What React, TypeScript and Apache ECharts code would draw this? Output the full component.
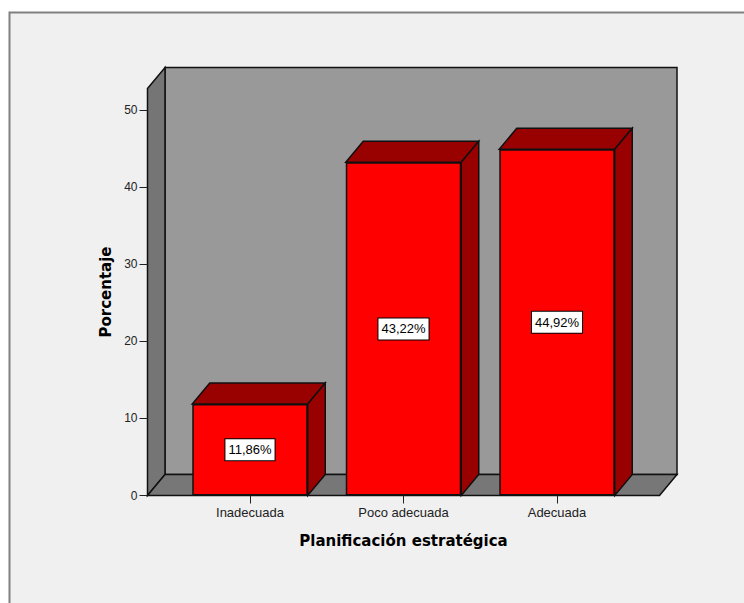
import React, { useEffect, useRef } from "react";
import * as echarts from "echarts";

const categories = ["Inadecuada", "Poco adecuada", "Adecuada"];
const percentages = [11.86, 43.22, 44.92];
const yTicks = [0, 10, 20, 30, 40, 50];
const yAxisTitle = "Porcentaje";
const xAxisTitle = "Planificación estratégica";

const DX = 17.5;
const DY = 21;
const BAR_W = 115.5;
const SIDE_MARGIN = 25.75;
const STROKE = "#101010";
const FONT = "'Liberation Sans', Arial, sans-serif";
const TITLE_FONT = "'DejaVu Sans', sans-serif";

function poly(points: number[][], fill: string) {
  return {
    type: "polygon",
    shape: { points },
    style: { fill, stroke: STROKE, lineWidth: 1.5 },
  };
}

export default function App() {
  const ref = useRef<HTMLDivElement>(null);
  useEffect(() => {
    const chart = echarts.init(ref.current!, null, { renderer: "svg" });
    chart.setOption({
      animation: false,
      backgroundColor: "#ffffff",
      graphic: [
        {
          type: "rect",
          z: -10,
          shape: { x: 9.5, y: 12.5, width: 760, height: 620 },
          style: { fill: "#f0f0f0", stroke: "#808080", lineWidth: 2 },
        },
      ],
      grid: { left: 173.25, top: 88.5, width: 460.5, height: 407 },
      xAxis: {
        type: "category",
        data: categories,
        z: 5,
        name: xAxisTitle,
        nameLocation: "middle",
        nameGap: 38,
        nameTextStyle: { fontFamily: TITLE_FONT, fontWeight: "bold", fontSize: 15, color: "#000" },
        axisLine: { show: false },
        axisTick: { show: true, alignWithLabel: true, length: 8, lineStyle: { color: "#222", width: 1 } },
        axisLabel: { fontFamily: FONT, fontSize: 13, color: "#222", margin: 10 },
      },
      yAxis: {
        type: "value",
        min: 0,
        max: 52.8,
        offset: SIDE_MARGIN,
        z: 5,
        name: yAxisTitle,
        nameLocation: "middle",
        nameGap: 34,
        nameTextStyle: { fontFamily: TITLE_FONT, fontWeight: "bold", fontSize: 15, color: "#000" },
        splitLine: { show: false },
        axisLine: { show: false },
        axisTick: { show: true, length: 8, customValues: yTicks, lineStyle: { color: "#222", width: 1 } },
        axisLabel: { fontFamily: FONT, fontSize: 12, color: "#222", margin: 10, customValues: yTicks, padding: [2, 0, 0, 0] },
      },
      series: [
        {
          type: "custom",
          z: 1,
          silent: true,
          clip: false,
          data: [[0, 0]],
          renderItem: (params: any) => {
            const c = params.coordSys;
            const l = c.x - SIDE_MARGIN;
            const r = c.x + c.width + SIDE_MARGIN;
            const t = c.y;
            const b = c.y + c.height;
            return {
              type: "group",
              children: [
                poly([[l + DX, t - DY], [r + DX, t - DY], [r + DX, b - DY], [l + DX, b - DY]], "#999999"),
                poly([[l, t], [l + DX, t - DY], [l + DX, b - DY], [l, b]], "#757575"),
                poly([[l, b], [l + DX, b - DY], [r + DX, b - DY], [r, b]], "#777777"),
              ],
            };
          },
        },
        {
          type: "custom",
          z: 2,
          silent: true,
          clip: false,
          data: percentages.map((v, i) => [i, v]),
          renderItem: (_: any, api: any) => {
            const [cx, top] = api.coord([api.value(0), api.value(1)]);
            const [, bottom] = api.coord([api.value(0), 0]);
            const l = cx - BAR_W / 2;
            const r = cx + BAR_W / 2;
            return {
              type: "group",
              children: [
                poly([[l, top], [l + DX, top - DY], [r + DX, top - DY], [r, top]], "#990000"),
                poly([[r, top], [r + DX, top - DY], [r + DX, bottom - DY], [r, bottom]], "#990000"),
              ],
            };
          },
        },
        {
          type: "bar",
          z: 3,
          barWidth: BAR_W,
          data: percentages,
          itemStyle: { color: "#ff0000", borderColor: STROKE, borderWidth: 1.5 },
          label: {
            show: true,
            position: "inside",
            formatter: (p: any) => p.value.toFixed(2).replace(".", ",") + "%",
            fontFamily: FONT,
            fontSize: 13,
            color: "#000",
            backgroundColor: "#ffffff",
            borderColor: "#000000",
            borderWidth: 1,
            padding: [5, 3, 3, 3],
          },
        },
      ],
    });
    return () => chart.dispose();
  }, []);
  return <div ref={ref} style={{ position: "fixed", left: 0, top: 0, width: 744, height: 603 }} />;
}
